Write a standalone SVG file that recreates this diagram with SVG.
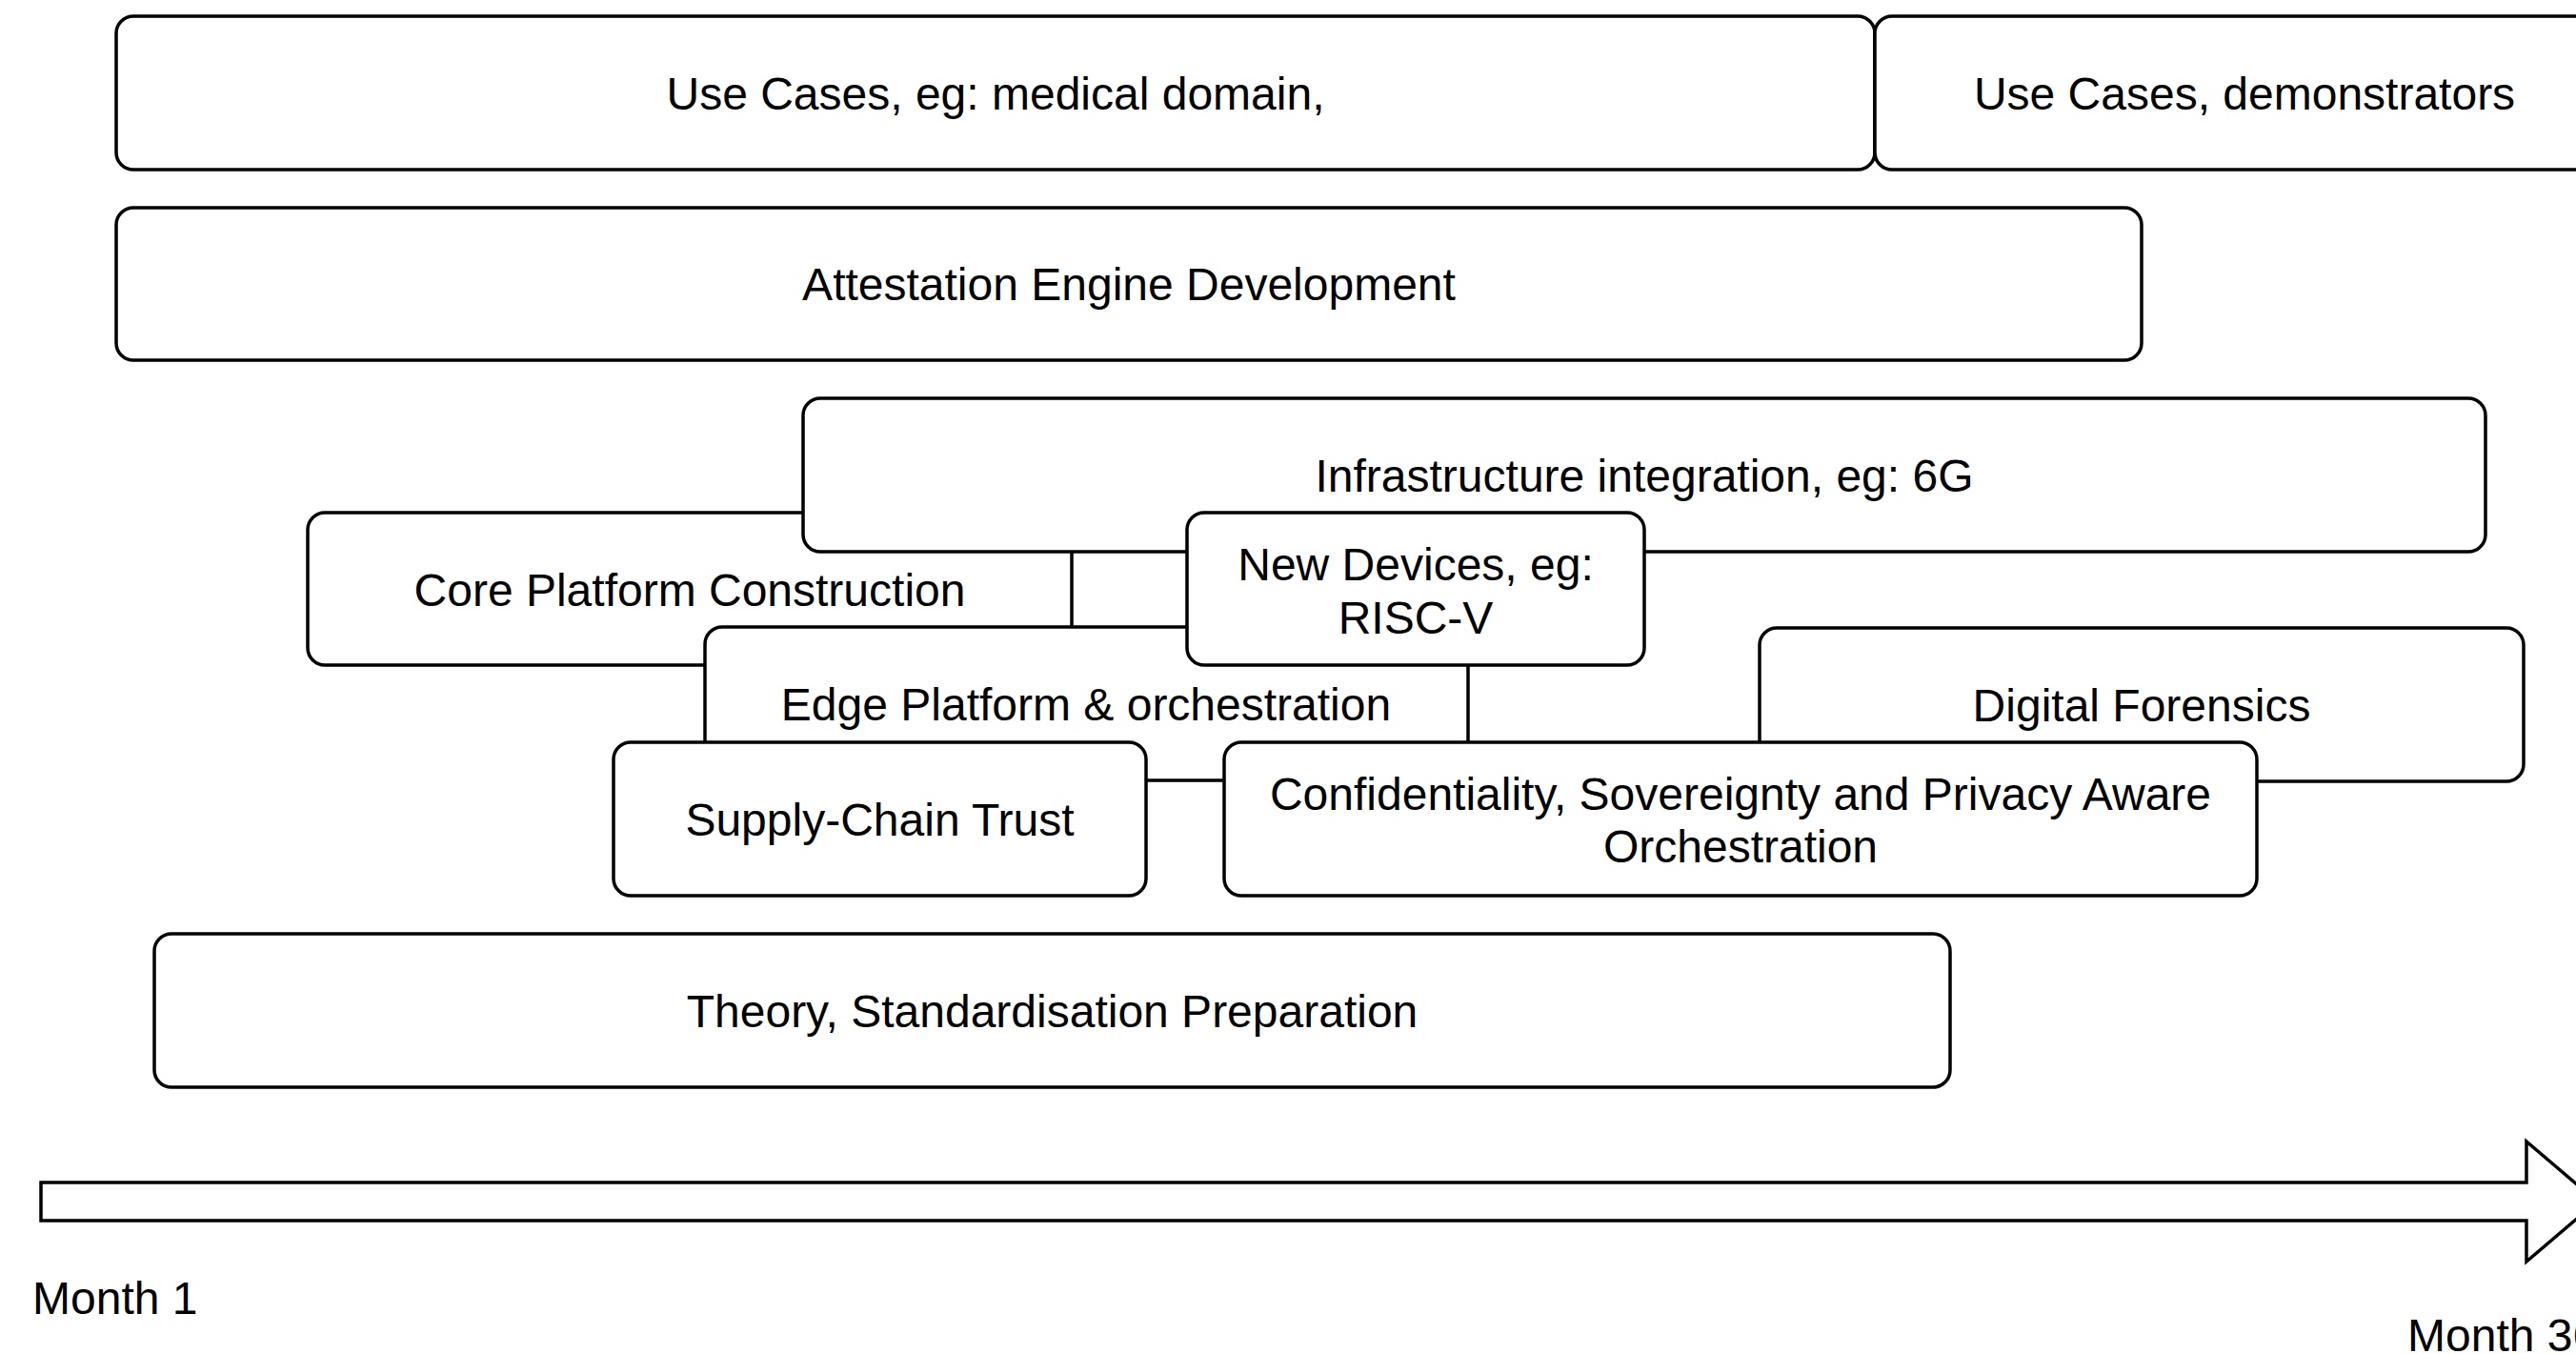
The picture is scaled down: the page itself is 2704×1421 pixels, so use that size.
<svg xmlns="http://www.w3.org/2000/svg" width="2704" height="1421" viewBox="0 0 2704 1421">
<style>
  .box { fill: #ffffff; stroke: #000000; stroke-width: 3.5; }
  .lbl { font-family: "Liberation Sans", Arial, Helvetica, sans-serif; font-size: 48px; fill: #000000; text-anchor: middle; }
  .lbl-start { font-family: "Liberation Sans", Arial, Helvetica, sans-serif; font-size: 48px; fill: #000000; text-anchor: start; }
</style>
<rect x="0" y="0" width="2704" height="1421" fill="#ffffff"/>

<g id="use-cases-medical">
  <rect class="box" x="122" y="17" width="1846" height="161" rx="18" ry="18"/>
  <text class="lbl" x="1045" y="114.5">Use Cases, eg: medical domain,</text>
</g>
<g id="use-cases-demonstrators">
  <rect class="box" x="1968" y="17" width="776" height="161" rx="18" ry="18"/>
  <text class="lbl" x="2356" y="114.5">Use Cases, demonstrators</text>
</g>
<g id="attestation-engine">
  <rect class="box" x="122" y="218" width="2126" height="160" rx="18" ry="18"/>
  <text class="lbl" x="1185" y="315">Attestation Engine Development</text>
</g>
<g id="core-platform">
  <rect class="box" x="323" y="538" width="802" height="160" rx="18" ry="18"/>
  <text class="lbl" x="724" y="635.5">Core Platform Construction</text>
</g>
<g id="infrastructure-integration">
  <rect class="box" x="843" y="418" width="1766" height="161" rx="18" ry="18"/>
  <text class="lbl" x="1726" y="515.5">Infrastructure integration, eg: 6G</text>
</g>
<g id="edge-platform">
  <rect class="box" x="740" y="658" width="801" height="161" rx="18" ry="18"/>
  <text class="lbl" x="1140" y="756">Edge Platform &amp; orchestration</text>
</g>
<g id="new-devices">
  <rect class="box" x="1246" y="538" width="480" height="160" rx="18" ry="18"/>
  <text class="lbl" x="1486" y="608.5">New Devices, eg:</text>
  <text class="lbl" x="1486" y="664.5">RISC-V</text>
</g>
<g id="digital-forensics">
  <rect class="box" x="1847" y="659" width="802" height="161" rx="18" ry="18"/>
  <text class="lbl" x="2248" y="756.5">Digital Forensics</text>
</g>
<g id="supply-chain-trust">
  <rect class="box" x="644" y="779" width="559" height="161" rx="18" ry="18"/>
  <text class="lbl" x="923.5" y="876.5">Supply-Chain Trust</text>
</g>
<g id="confidentiality-orchestration">
  <rect class="box" x="1285" y="779" width="1084" height="161" rx="18" ry="18"/>
  <text class="lbl" x="1827" y="849.5">Confidentiality, Sovereignty and Privacy Aware</text>
  <text class="lbl" x="1827" y="904.5">Orchestration</text>
</g>
<g id="theory-standardisation">
  <rect class="box" x="162" y="980" width="1885" height="161" rx="18" ry="18"/>
  <text class="lbl" x="1104.5" y="1077.5">Theory, Standardisation Preparation</text>
</g>

<g id="timeline">
  <polygon class="box" points="43,1241 2652,1241 2652,1198 2726,1261 2652,1324 2652,1281 43,1281"/>
  <text class="lbl-start" x="34" y="1379">Month 1</text>
  <text class="lbl-start" x="2527" y="1418">Month 36</text>
</g>
</svg>
